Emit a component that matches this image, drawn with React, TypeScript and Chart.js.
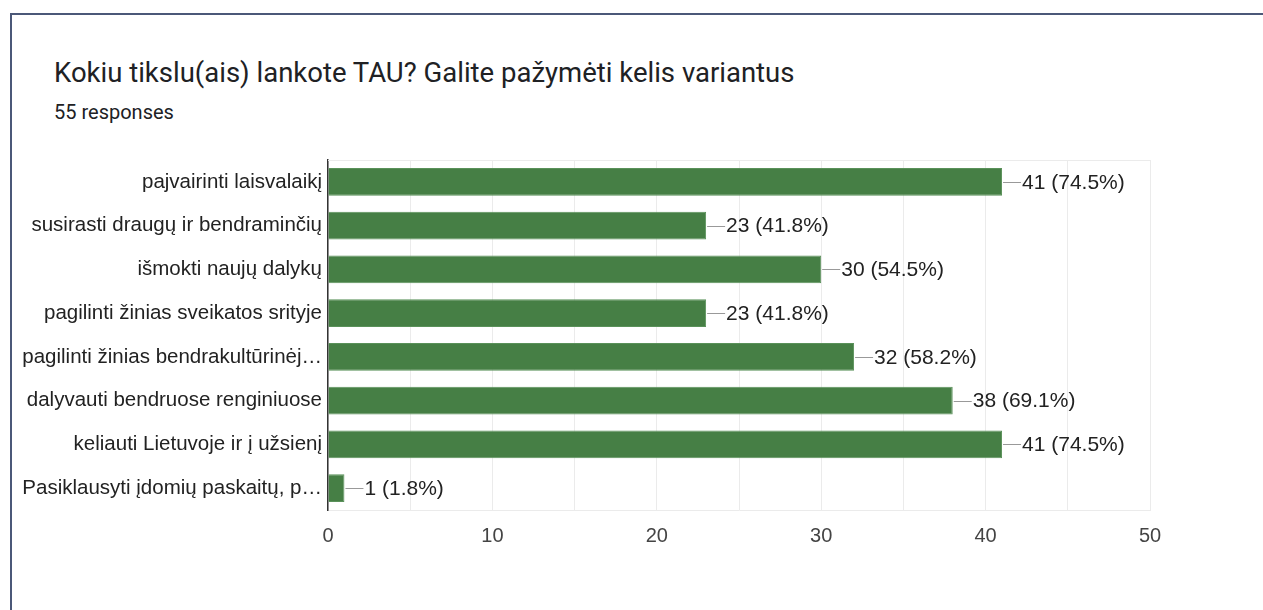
import React, { useEffect, useRef } from "react";
import { Chart, registerables } from "chart.js";

Chart.register(...registerables);

const categories = [
  "pajvairinti laisvalaikį",
  "susirasti draugų ir bendraminčių",
  "išmokti naujų dalykų",
  "pagilinti žinias sveikatos srityje",
  "pagilinti žinias bendrakultūrinėj…",
  "dalyvauti bendruose renginiuose",
  "keliauti Lietuvoje ir į užsienį",
  "Pasiklausyti įdomių paskaitų, p…",
];
const counts = [41, 23, 30, 23, 32, 38, 41, 1];
const percents = ["74.5%", "41.8%", "54.5%", "41.8%", "58.2%", "69.1%", "74.5%", "1.8%"];
const xTicks = [0, 10, 20, 30, 40, 50];

const TITLE = "Kokiu tikslu(ais) lankote TAU? Galite pažymėti kelis variantus";
const SUBTITLE = "55 responses";
const FONT = "'Liberation Sans', Arial, sans-serif";

const labelPlugin = {
  id: "valueLabels",
  afterDatasetsDraw(chart: any) {
    const ctx = chart.ctx;
    const meta = chart.getDatasetMeta(0);
    ctx.save();
    meta.data.forEach((bar: any, i: number) => {
      const x = bar.x;
      const y = bar.y;
      ctx.strokeStyle = "#999999";
      ctx.lineWidth = 1;
      ctx.beginPath();
      ctx.moveTo(x + 1, Math.round(y) + 0.5);
      ctx.lineTo(x + 19, Math.round(y) + 0.5);
      ctx.stroke();
      ctx.fillStyle = "#222222";
      ctx.font = `21px ${FONT}`;
      ctx.textAlign = "left";
      ctx.textBaseline = "middle";
      ctx.fillText(`${counts[i]} (${percents[i]})`, x + 20, y + 1);
    });
    ctx.restore();
  },
  beforeDatasetsDraw(chart: any) {
    const { ctx, chartArea } = chart;
    ctx.save();
    ctx.strokeStyle = "#ebebeb";
    ctx.lineWidth = 1;
    ctx.beginPath();
    ctx.moveTo(chartArea.left, chartArea.top + 0.5);
    ctx.lineTo(chartArea.right, chartArea.top + 0.5);
    ctx.stroke();
    ctx.restore();
  },
};

export default function App() {
  const ref = useRef<HTMLCanvasElement>(null);
  useEffect(() => {
    if (!ref.current) return;
    const chart = new Chart(ref.current, {
      type: "bar",
      data: {
        labels: categories,
        datasets: [
          {
            data: counts,
            backgroundColor: "#467f45",
            borderColor: "#5a915a",
            borderWidth: 1,
            borderSkipped: "left",
            barPercentage: 0.63,
            categoryPercentage: 1,
          },
        ],
      },
      options: {
        indexAxis: "y",
        animation: false,
        responsive: false,
        maintainAspectRatio: false,
        layout: { padding: { top: 20, right: 113, left: 0, bottom: 0 } },
        plugins: { legend: { display: false }, tooltip: { enabled: false } },
        scales: {
          x: {
            min: 0,
            max: 50,
            afterBuildTicks: (axis: any) => {
              const t: any[] = [];
              for (let v = 0; v <= 50; v += 5) t.push({ value: v });
              axis.ticks = t;
            },
            afterFit: (axis: any) => {
              axis.height = 60;
            },
            grid: { color: "#ebebeb", drawTicks: false, lineWidth: 1 },
            border: { display: true, color: "#ebebeb" },
            ticks: {
              autoSkip: false,
              maxRotation: 0,
              padding: 14,
              color: "#444444",
              font: { size: 20, family: FONT },
              callback: (v: any) => (xTicks.includes(Number(v)) ? String(v) : ""),
            },
          },
          y: {
            afterFit: (axis: any) => {
              axis.width = 328;
            },
            grid: { display: false, drawTicks: false },
            border: { display: true, color: "#333333", width: 1.5 },
            ticks: {
              padding: 6,
              color: "#222222",
              font: { size: 20.5, family: FONT },
            },
          },
        },
      },
      plugins: [labelPlugin],
    });
    return () => chart.destroy();
  }, []);

  return (
    <div style={{ position: "absolute", left: 0, top: 0, width: 1263, height: 610, overflow: "hidden", background: "#fff" }}>
      <div
        style={{
          position: "absolute",
          left: 10,
          top: 13,
          width: 1400,
          height: 800,
          border: "2px solid #4b5878",
          boxSizing: "border-box",
        }}
      />
      <div
        style={{
          position: "absolute",
          left: 54,
          top: 59,
          fontFamily: "Roboto, sans-serif",
          fontSize: 27.5,
          color: "#202124",
          whiteSpace: "nowrap",
          lineHeight: "28px",
        }}
      >
        {TITLE}
      </div>
      <div
        style={{
          position: "absolute",
          left: 54,
          top: 102,
          fontFamily: "Roboto, sans-serif",
          fontSize: 20,
          color: "#202124",
          whiteSpace: "nowrap",
          lineHeight: "20px",
        }}
      >
        {SUBTITLE}
      </div>
      <canvas
        ref={ref}
        width={1263}
        height={430}
        style={{ position: "absolute", left: 0, top: 140, width: 1263, height: 430 }}
      />
    </div>
  );
}
